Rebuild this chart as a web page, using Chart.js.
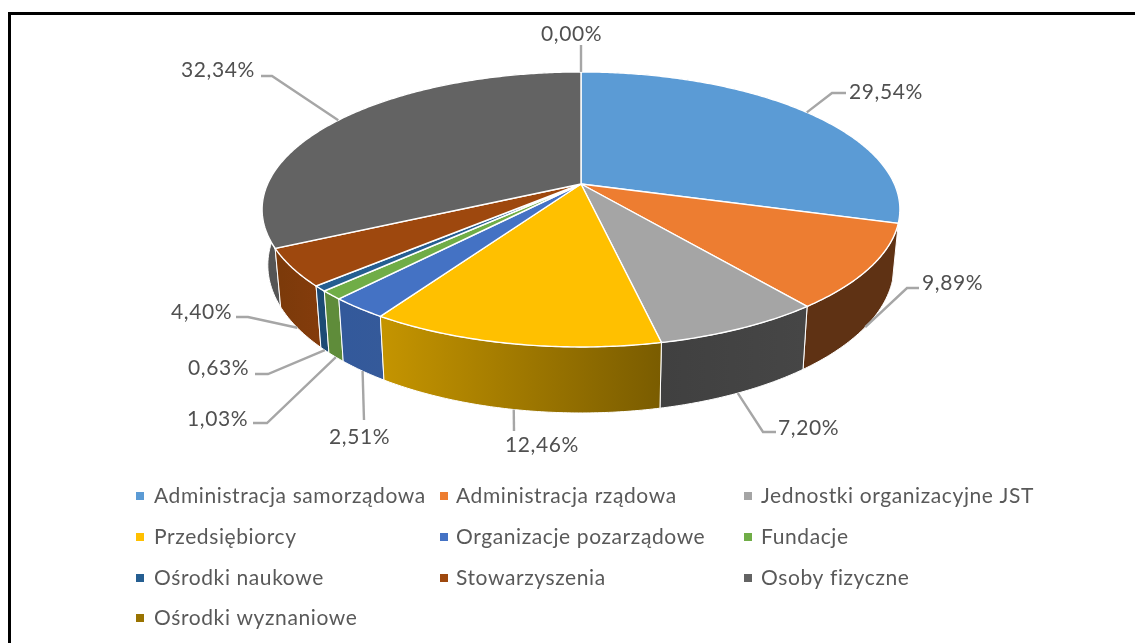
<!DOCTYPE html>
<html lang="pl">
<head>
<meta charset="UTF-8" />
<title>Struktura wnioskodawców</title>
<style>
  html, body { margin: 0; padding: 0; background: #fff; overflow: hidden; }
  #frame {
    position: absolute; left: 8px; top: 12px; width: 1127px; height: 631px;
    box-sizing: border-box; border-left: 3px solid #000; border-top: 3px solid #000;
  }
  canvas { position: absolute; left: 0; top: 0; }
</style>
<script src="https://cdn.jsdelivr.net/npm/chart.js@4"></script>
</head>
<body>
<canvas id="chart" width="1135" height="643"></canvas>
<div id="frame"></div>
<script>
// Data
const categories = [
  "Administracja samorządowa", "Administracja rządowa", "Jednostki organizacyjne JST",
  "Przedsiębiorcy", "Organizacje pozarządowe", "Fundacje",
  "Ośrodki naukowe", "Stowarzyszenia", "Osoby fizyczne", "Ośrodki wyznaniowe",
];
const shares = [29.54, 9.89, 7.20, 12.46, 2.51, 1.03, 0.63, 4.40, 32.34, 0.00];

// Colours
const topColors = ["#5B9BD5", "#ED7D31", "#A5A5A5", "#FFC000", "#4472C4", "#70AD47", "#255E91", "#9E480E", "#636363", "#997300"];
const wallColors = [
  ["#2c4f70", "#2c4f70"], ["#5f3214", "#5f3214"], ["#404040", "#464646"], ["#c49400", "#7a5c00"],
  ["#33599b", "#355a9a"], ["#5f8c3a", "#5f8c3a"], ["#1c4a74", "#1c4a74"], ["#7c3a0a", "#843c0c"],
  ["#555555", "#555555"], ["#7a5c00", "#7a5c00"],
];

// Label layout: text position, elbow, end of leader, rim depth of the anchor (0 top, 1 bottom)
const labelSpots = [
  { tx: 849, ty: 92, elbow: [832, 93], end: [846, 93], depth: 0 },
  { tx: 922, ty: 283, elbow: [907, 288], end: [919, 288], depth: 1 },
  { tx: 778, ty: 428, elbow: [763, 432], end: [776, 432], depth: 1 },
  { tx: 505, ty: 445, elbow: [514, 431], end: [514, 431], depth: 1 },
  { tx: 329, ty: 437, elbow: [364, 420], end: [364, 420], depth: 1 },
  { tx: 187, ty: 419, elbow: [267, 423], end: [253, 423], depth: 1 },
  { tx: 188, ty: 368, elbow: [268, 374], end: [255, 374], depth: 1 },
  { tx: 171, ty: 312, elbow: [248, 317], end: [236, 317], depth: 1 },
  { tx: 181, ty: 70, elbow: [272, 76], end: [261, 76], depth: 0 },
  { tx: 541, ty: 34, elbow: [581, 45], end: [581, 45], depth: 0 },
];

// Legend grid
const legendCols = [136, 440, 744];
const legendTextCols = [154, 456, 761];
const legendRows = [496, 537, 578, 618];

// Tilted disc: perspective projection of the unit circle
const view = { cx: 581, cy: 184, a: 313.4, b: 132.8, k: 0.185, drop: 53.8, shrink: 0.982 };

function project(angle, depth) {
  const theta = angle + Math.PI / 2;
  const x = Math.sin(theta);
  const y = -Math.cos(theta);
  const w = 1 - view.k * y;
  const sx = 1 - (1 - view.shrink) * depth;
  return [view.cx + sx * view.a * x / w, view.cy + (view.b * y + view.drop * depth) / w];
}

function arcPoints(start, end, depth) {
  const steps = Math.max(2, Math.ceil((end - start) / 0.01));
  const pts = [];
  for (let i = 0; i <= steps; i++) pts.push(project(start + (end - start) * i / steps, depth));
  return pts;
}

function tracePath(ctx, pts) {
  ctx.beginPath();
  pts.forEach((p, i) => (i ? ctx.lineTo(p[0], p[1]) : ctx.moveTo(p[0], p[1])));
  ctx.closePath();
}

const formatShare = (v) => v.toFixed(2).replace(".", ",") + "%";

const tiltedPie = {
  id: "tiltedPie",
  // draw the slices from the angles the pie controller worked out
  beforeDatasetDraw(chart) {
    const { ctx } = chart;
    const arcs = chart.getDatasetMeta(0).data.map((el, i) => {
      const { startAngle, endAngle } = el.getProps(["startAngle", "endAngle"], true);
      return { i, startAngle, endAngle, mid: (startAngle + endAngle) / 2 };
    }).filter((a) => a.endAngle - a.startAngle > 1e-6);

    ctx.save();
    // walls first, back to front
    [...arcs].sort((p, q) => project(p.mid, 0)[1] - project(q.mid, 0)[1]).forEach((a) => {
      const upper = arcPoints(a.startAngle, a.endAngle, 0);
      const lower = arcPoints(a.startAngle, a.endAngle, 1);
      const front = lower.filter((p) => p[1] > view.cy + 60);
      const xs = (front.length ? front : lower).map((p) => p[0]);
      const grad = ctx.createLinearGradient(Math.min(...xs), 0, Math.max(...xs) + 1, 0);
      grad.addColorStop(0, wallColors[a.i][0]);
      grad.addColorStop(1, wallColors[a.i][1]);
      tracePath(ctx, upper.concat(lower.reverse()));
      ctx.fillStyle = grad;
      ctx.fill();
      ctx.strokeStyle = "#fff";
      ctx.lineWidth = 1;
      ctx.stroke();
    });
    // top face
    arcs.forEach((a) => {
      tracePath(ctx, [[view.cx, view.cy], ...arcPoints(a.startAngle, a.endAngle, 0)]);
      ctx.fillStyle = topColors[a.i];
      ctx.fill();
      ctx.strokeStyle = "#fff";
      ctx.lineWidth = 1.4;
      ctx.stroke();
    });
    ctx.restore();
    return false;
  },
  afterDraw(chart) {
    const { ctx } = chart;
    const data = chart.data.datasets[0].data;
    const meta = chart.getDatasetMeta(0).data;
    ctx.save();
    ctx.font = "21px Lato, sans-serif";
    ctx.letterSpacing = "0.6px";
    ctx.textBaseline = "middle";
    ctx.textAlign = "left";

    // value labels and leaders
    data.forEach((value, i) => {
      const spot = labelSpots[i];
      const { startAngle, endAngle } = meta[i].getProps(["startAngle", "endAngle"], true);
      const from = project((startAngle + endAngle) / 2, spot.depth);
      ctx.strokeStyle = "#A6A6A6";
      ctx.lineWidth = 2.4;
      ctx.beginPath();
      ctx.moveTo(from[0], from[1]);
      ctx.lineTo(spot.elbow[0], spot.elbow[1]);
      ctx.lineTo(spot.end[0], spot.end[1]);
      ctx.stroke();
      ctx.fillStyle = "#505050";
      ctx.fillText(formatShare(value), spot.tx, spot.ty);
    });

    // legend in three columns, items come from the pie's own label generator
    const items = Chart.overrides.pie.plugins.legend.labels.generateLabels(chart);
    items.forEach((item, i) => {
      const col = i % 3;
      const y = legendRows[Math.floor(i / 3)];
      ctx.fillStyle = item.fillStyle;
      ctx.fillRect(legendCols[col], y - 4, 8, 8);
      ctx.fillStyle = "#595959";
      ctx.fillText(item.text, legendTextCols[col], y);
    });
    ctx.restore();
  },
};

new Chart(document.getElementById("chart"), {
  type: "pie",
  data: {
    labels: categories,
    datasets: [{ data: shares, backgroundColor: topColors, borderColor: "#fff" }],
  },
  options: {
    responsive: false,
    animation: false,
    plugins: {
      legend: { display: false },
      tooltip: { enabled: false },
    },
  },
  plugins: [tiltedPie],
});
</script>
</body>
</html>
